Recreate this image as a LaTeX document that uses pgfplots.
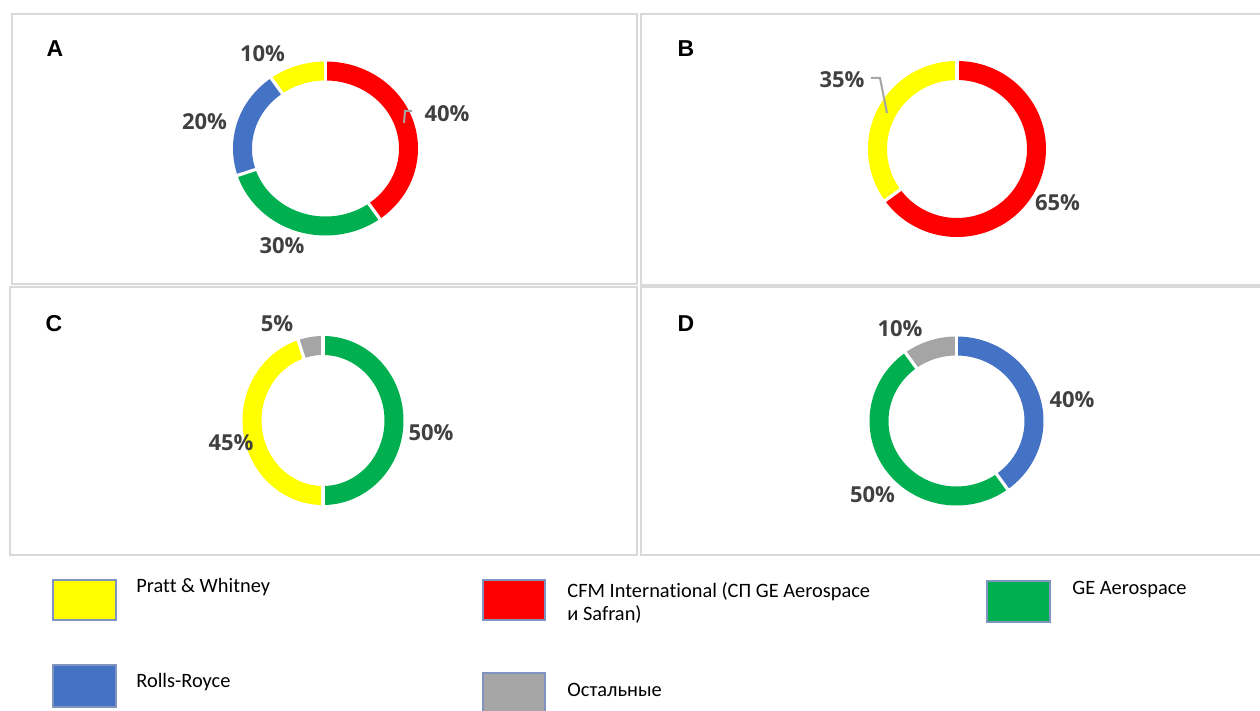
\documentclass[border=0pt]{standalone}
\usepackage{fontspec}
\setmainfont{Carlito}[Ligatures=NoCommon]
\newfontfamily\pctfont{Open Sans}
\newfontfamily\letfont{Liberation Sans}
\usepackage{pgfplots}
\pgfplotsset{compat=1.18}
\definecolor{cyel}{HTML}{FFFF00}
\definecolor{cred}{HTML}{FF0000}
\definecolor{cgrn}{HTML}{00B050}
\definecolor{cblu}{HTML}{4472C4}
\definecolor{cgry}{HTML}{A5A5A5}
\definecolor{lbl}{HTML}{404040}
\definecolor{boxg}{HTML}{D9D9D9}
\definecolor{sqb}{HTML}{7F95BF}
% segment: cx cy rx ry startpct endpct color
\newcommand\seg[7]{%
  \addplot[draw=#7, line width=9.5pt, no markers, domain=90-3.6*#6:90-3.6*#5, samples=90]
    ({#1+#3*cos(x)},{#2-#4*sin(x)});}
% separator: cx cy rx ry pct
\newcommand\sep[5]{%
  \draw[white, line width=1.6pt] ({#1+(#3-12)*cos(90-3.6*#5)},{#2-(#4-12)*sin(90-3.6*#5)}) --
    ({#1+(#3+12)*cos(90-3.6*#5)},{#2-(#4+12)*sin(90-3.6*#5)});}
\tikzset{pl/.style={font=\pctfont\bfseries\fontsize{11}{13}\selectfont, text=lbl, inner sep=0pt},
  pn/.style={font=\letfont\bfseries\fontsize{11.5}{13}\selectfont, inner sep=0pt},
  lg/.style={font=\fontsize{10.2}{11.8}\selectfont, anchor=west, inner sep=0pt, align=left}}
\begin{document}
\begin{tikzpicture}
\begin{axis}[name=ax, width=630pt, height=355.5pt, scale only axis,
  xmin=0, xmax=1260, ymin=0, ymax=711, y dir=reverse, hide axis, clip=false]
% panel boxes
\draw[boxg, line width=1.3pt] (12,14) rectangle (637,284);
\draw[boxg, line width=1.3pt] (641,14) rectangle (1268,285);
\draw[boxg, line width=1.3pt] (10,287) rectangle (637,555);
\draw[boxg, line width=1.3pt] (641,287) rectangle (1268,555);
\node[pn] at (55,49) {A};
\node[pn] at (686,49) {B};
\node[pn] at (54,324) {C};
\node[pn] at (686,324) {D};
% A: CFM 40, GE 30, RR 20, PW 10
\seg{325.5}{148.5}{83}{77.5}{0}{40}{cred}
\seg{325.5}{148.5}{83}{77.5}{40}{70}{cgrn}
\seg{325.5}{148.5}{83}{77.5}{70}{90}{cblu}
\seg{325.5}{148.5}{83}{77.5}{90}{100}{cyel}
\sep{325.5}{148.5}{83}{77.5}{0}
\sep{325.5}{148.5}{83}{77.5}{40}
\sep{325.5}{148.5}{83}{77.5}{70}
\sep{325.5}{148.5}{83}{77.5}{90}
% B: CFM 65, PW 35
\seg{957}{149}{79.5}{78.5}{0}{65}{cred}
\seg{957}{149}{79.5}{78.5}{65}{100}{cyel}
\sep{957}{149}{79.5}{78.5}{0}
\sep{957}{149}{79.5}{78.5}{65}
% C: GE 50, PW 45, other 5
\seg{323}{420.5}{71}{75}{0}{50}{cgrn}
\seg{323}{420.5}{71}{75}{50}{95}{cyel}
\seg{323}{420.5}{71}{75}{95}{100}{cgry}
\sep{323}{420.5}{71}{75}{0}
\sep{323}{420.5}{71}{75}{50}
\sep{323}{420.5}{71}{75}{95}
% D: RR 40, GE 50, other 10
\seg{956.5}{421}{77.5}{75}{0}{40}{cblu}
\seg{956.5}{421}{77.5}{75}{40}{90}{cgrn}
\seg{956.5}{421}{77.5}{75}{90}{100}{cgry}
\sep{956.5}{421}{77.5}{75}{0}
\sep{956.5}{421}{77.5}{75}{40}
\sep{956.5}{421}{77.5}{75}{90}
% leader lines
\draw[cgry, line width=1pt] (412,111) -- (405,111) -- (404,123);
\draw[cgry, line width=1pt] (871,78) -- (880,78) -- (887,113);
% labels
\node[pl] at (262.5,54) {10\%};
\node[pl] at (447,114) {40\%};
\node[pl] at (204.5,122) {20\%};
\node[pl] at (282,246) {30\%};
\node[pl] at (842,80) {35\%};
\node[pl] at (1057.5,203) {65\%};
\node[pl] at (277,324) {5\%};
\node[pl] at (231,443) {45\%};
\node[pl] at (431,433) {50\%};
\node[pl] at (900,329) {10\%};
\node[pl] at (1072,400) {40\%};
\node[pl] at (872.5,495) {50\%};
% legend
\draw[sqb, line width=0.7pt, fill=cyel] (53,580) rectangle (116,620);
\draw[sqb, line width=0.7pt, fill=cred] (483,580) rectangle (545,620);
\draw[sqb, line width=0.7pt, fill=cgrn] (987,581) rectangle (1050,622);
\draw[sqb, line width=0.7pt, fill=cblu] (53,665) rectangle (116,707);
\draw[sqb, line width=0.7pt, fill=cgry] (483,673) rectangle (545,716);
\node[lg] at (136,587) {Pratt \& Whitney};
\node[lg, anchor=north west] at (567,582) {CFM International (СП GE Aerospace\\и Safran)};
\node[lg] at (1072,590) {GE Aerospace};
\node[lg] at (136,682) {Rolls-Royce};
\node[lg] at (567,690) {Остальные};
\end{axis}
\pgfresetboundingbox
\useasboundingbox (ax.south west) rectangle (ax.north east);
\end{tikzpicture}
\end{document}
